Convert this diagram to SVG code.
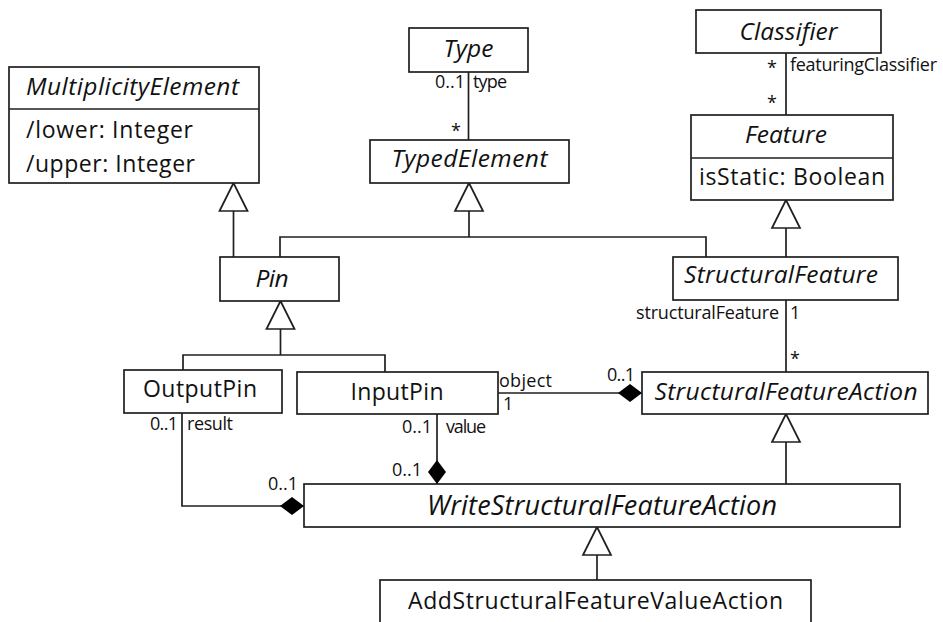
<svg xmlns="http://www.w3.org/2000/svg" width="943" height="622" viewBox="0 0 943 622">
  <style>
    .box { fill: #ffffff; stroke: #1f1f1f; stroke-width: 1.7; }
    .line { fill: none; stroke: #1f1f1f; stroke-width: 1.7; }
    .name { font-family: "Open Sans", "Liberation Sans", sans-serif; font-size: 23px; fill: #111111; text-anchor: middle; }
    .attr { font-family: "Open Sans", "Liberation Sans", sans-serif; font-size: 23px; fill: #111111; }
    .name.abstract, .attr.abstract { font-style: italic; font-size: 24.5px; }
    .lbl { font-family: "Open Sans", "Liberation Sans", sans-serif; font-size: 18px; fill: #111111; }
    .end { text-anchor: end; }
  </style>
  <defs>
    <!-- hollow triangle for generalizations -->
    <marker id="gen" viewBox="0 0 28 28" refX="28" refY="14" markerWidth="28" markerHeight="28" markerUnits="userSpaceOnUse" orient="auto" overflow="visible">
      <path d="M0,0 L28,14 L0,28 Z" fill="#ffffff" stroke="#1f1f1f" stroke-width="1.7" stroke-linejoin="miter"/>
    </marker>
    <!-- filled diamond for composite ends -->
    <marker id="comp" viewBox="0 0 24 18" refX="24" refY="9" markerWidth="24" markerHeight="18" markerUnits="userSpaceOnUse" orient="auto" overflow="visible">
      <path d="M0,9 L12,0 L24,9 L12,18 Z" fill="#000000"/>
    </marker>
  </defs>

  <!-- connectors -->
  <g id="connectors">
    <!-- Type / TypedElement association -->
    <path class="line" d="M468.5,72 V140"/>
    <!-- Classifier / Feature association -->
    <path class="line" d="M786,53 V115"/>
    <!-- Pin generalizes MultiplicityElement -->
    <path class="line" d="M233.5,257 V183" marker-end="url(#gen)"/>
    <!-- Pin and StructuralFeature generalize TypedElement -->
    <path class="line" d="M280,257 V237 H706 V257"/>
    <path class="line" d="M469,237 V183" marker-end="url(#gen)"/>
    <!-- StructuralFeature generalizes Feature -->
    <path class="line" d="M786,257 V200" marker-end="url(#gen)"/>
    <!-- OutputPin and InputPin generalize Pin -->
    <path class="line" d="M183,370 V355 H385 V372"/>
    <path class="line" d="M280.5,355 V301" marker-end="url(#gen)"/>
    <!-- StructuralFeature / StructuralFeatureAction association -->
    <path class="line" d="M786,300 V372"/>
    <!-- object pin composition -->
    <path class="line" d="M498,393 H642" marker-end="url(#comp)"/>
    <!-- result pin composition -->
    <path class="line" d="M182,413 V506 H304" marker-end="url(#comp)"/>
    <!-- value pin composition -->
    <path class="line" d="M437,414 V484" marker-end="url(#comp)"/>
    <!-- WriteStructuralFeatureAction generalizes StructuralFeatureAction -->
    <path class="line" d="M786,484 V414" marker-end="url(#gen)"/>
    <!-- AddStructuralFeatureValueAction generalizes WriteStructuralFeatureAction -->
    <path class="line" d="M597,580 V527" marker-end="url(#gen)"/>

    <!-- end labels -->
    <text class="lbl end" x="465" y="88" textLength="30">0..1</text>
    <text class="lbl" x="473" y="88" textLength="34">type</text>
    <text class="lbl end" x="461" y="137">*</text>

    <text class="lbl end" x="777" y="74">*</text>
    <text class="lbl" x="790" y="71" textLength="147">featuringClassifier</text>
    <text class="lbl end" x="777" y="109">*</text>

    <text class="lbl end" x="779" y="319" textLength="143">structuralFeature</text>
    <text class="lbl" x="790" y="319">1</text>
    <text class="lbl" x="790" y="365">*</text>

    <text class="lbl" x="499" y="387" textLength="53">object</text>
    <text class="lbl" x="503" y="410">1</text>
    <text class="lbl end" x="635" y="381" textLength="28">0..1</text>

    <text class="lbl end" x="178" y="430" textLength="28">0..1</text>
    <text class="lbl" x="187" y="430" textLength="46">result</text>
    <text class="lbl end" x="298" y="490" textLength="30">0..1</text>

    <text class="lbl end" x="432" y="433" textLength="30">0..1</text>
    <text class="lbl" x="446" y="433" textLength="40">value</text>
    <text class="lbl end" x="422" y="476" textLength="30">0..1</text>
  </g>

  <g id="MultiplicityElement">
    <rect class="box" x="9" y="67" width="250" height="116"/>
    <line class="line" x1="9" y1="109" x2="259" y2="109"/>
    <text class="attr abstract" x="26" y="95" textLength="213">MultiplicityElement</text>
    <text class="attr" x="26" y="138" textLength="167">/lower: Integer</text>
    <text class="attr" x="26" y="172" textLength="169">/upper: Integer</text>
  </g>

  <g id="Type">
    <rect class="box" x="409" y="28" width="119" height="44"/>
    <text class="name abstract" x="468.5" y="57" textLength="50">Type</text>
  </g>

  <g id="TypedElement">
    <rect class="box" x="370" y="140" width="199" height="43"/>
    <text class="name abstract" x="469.5" y="167" textLength="156">TypedElement</text>
  </g>

  <g id="Classifier">
    <rect class="box" x="696" y="10" width="185" height="43"/>
    <text class="name abstract" x="788.5" y="40" textLength="98">Classifier</text>
  </g>

  <g id="Feature">
    <rect class="box" x="691" y="115" width="202" height="85"/>
    <line class="line" x1="691" y1="158" x2="893" y2="158"/>
    <text class="name abstract" x="786" y="143" textLength="82">Feature</text>
    <text class="attr" x="699" y="185" textLength="186">isStatic: Boolean</text>
  </g>

  <g id="Pin">
    <rect class="box" x="220" y="257" width="119" height="44"/>
    <text class="name abstract" x="272" y="287" textLength="33">Pin</text>
  </g>

  <g id="StructuralFeature">
    <rect class="box" x="673" y="257" width="225" height="43"/>
    <text class="name abstract" x="781" y="283" textLength="194">StructuralFeature</text>
  </g>

  <g id="OutputPin">
    <rect class="box" x="124" y="370" width="158" height="43"/>
    <text class="name" x="200" y="397" textLength="114">OutputPin</text>
  </g>

  <g id="InputPin">
    <rect class="box" x="297" y="372" width="201" height="42"/>
    <text class="name" x="397" y="400" textLength="93">InputPin</text>
  </g>

  <g id="StructuralFeatureAction">
    <rect class="box" x="642" y="372" width="286" height="42"/>
    <text class="name abstract" x="786" y="400" textLength="263">StructuralFeatureAction</text>
  </g>

  <g id="WriteStructuralFeatureAction">
    <rect class="box" x="304" y="484" width="596" height="43"/>
    <text class="name abstract" x="602" y="515" style="font-size:27px" textLength="350">WriteStructuralFeatureAction</text>
  </g>

  <g id="AddStructuralFeatureValueAction">
    <rect class="box" x="380" y="580" width="431" height="50"/>
    <text class="name" x="595.5" y="609" textLength="375">AddStructuralFeatureValueAction</text>
  </g>
</svg>
